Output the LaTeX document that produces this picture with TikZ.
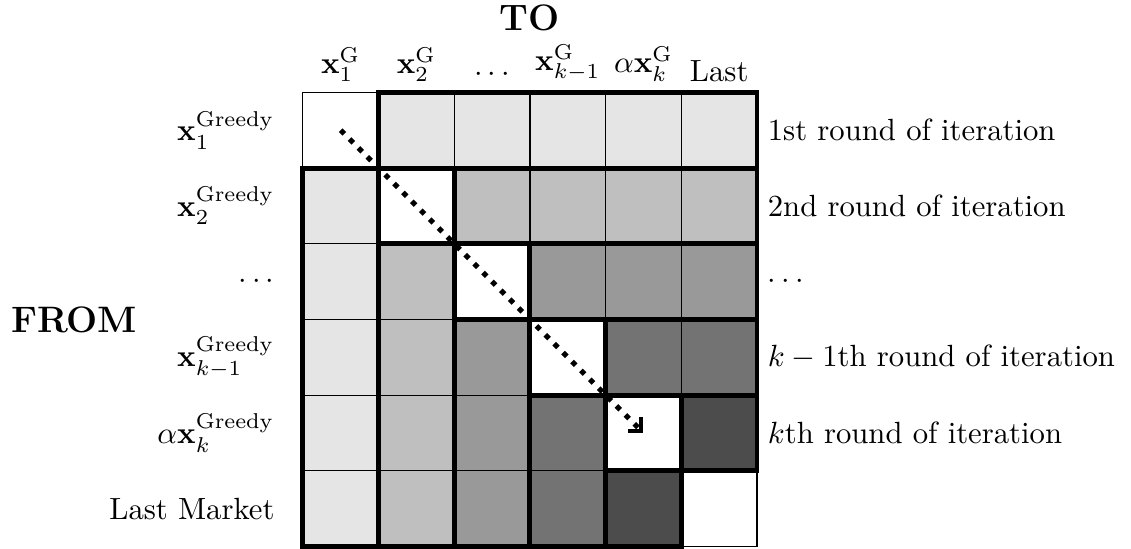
\documentclass[tikz,border=0pt]{standalone}
\usetikzlibrary{arrows.meta}
\begin{document}
\begin{tikzpicture}[x=0.867cm,y=0.867cm,
    thinline/.style={line width=0.4pt,draw=black},
    strip/.style={line width=1.6pt},
    diag/.style={line width=1.7pt,dash pattern=on 1.7pt off 2.4pt,
        -{Straight Barb[angle=90:4.5pt,line width=1.4pt]}}]
    \useasboundingbox (-4.0,1.22) rectangle (10.94,-6.02);
    % cells, shade = min(row,col), white on the diagonal
    \foreach \i in {1,...,6}
      \foreach \j in {1,...,6} {
        \pgfmathtruncatemacro{\lev}{min(\i,\j)}
        \pgfmathtruncatemacro{\tone}{\i==\j ? 0 : 15*\lev-5}
        \draw[thinline,fill=black!\tone] (\j-1,-\i+1) rectangle (\j,-\i);
      }
    % thick outline of each round
    \foreach \k in {1,...,5} {
        \draw[strip] (\k,-\k+1) rectangle (6,-\k);
        \draw[strip] (\k-1,-\k) rectangle (\k,-6);
    }
    \coordinate (start) at (0.5,-0.5);
    \coordinate (stop) at (4.5,-4.5);
    \draw[diag] (start) -- (stop);
    % labels
    \node[font=\large\bfseries] (tolab) at (3,0.98) {TO};
    \node[font=\large\bfseries] (fromlab) at (-3.02,-3) {FROM};
    \foreach \lab [count=\j] in {{$\mathbf{x}_1^{\mathrm{G}}$},{$\mathbf{x}_2^{\mathrm{G}}$},
        {$\cdots$},{$\mathbf{x}_{k-1}^{\mathrm{G}}$},{$\alpha\mathbf{x}_k^{\mathrm{G}}$},{Last}}
        \node[above] (col\j) at (\j-0.5,0) {\lab};
    \foreach \lab [count=\i] in {{$\mathbf{x}_1^{\mathrm{Greedy}}$},{$\mathbf{x}_2^{\mathrm{Greedy}}$},
        {$\cdots$},{$\mathbf{x}_{k-1}^{\mathrm{Greedy}}$},{$\alpha\mathbf{x}_k^{\mathrm{Greedy}}$},{Last Market}}
        \node[left] (row\i) at (-0.23,-\i+0.5) {\lab};
    \foreach \lab [count=\i] in {{1st round of iteration},{2nd round of iteration},
        {$\cdots$},{$k-1$th round of iteration},{$k$th round of iteration}}
        \node[right] (rnd\i) at (6,-\i+0.5) {\lab};
\end{tikzpicture}
\end{document}
